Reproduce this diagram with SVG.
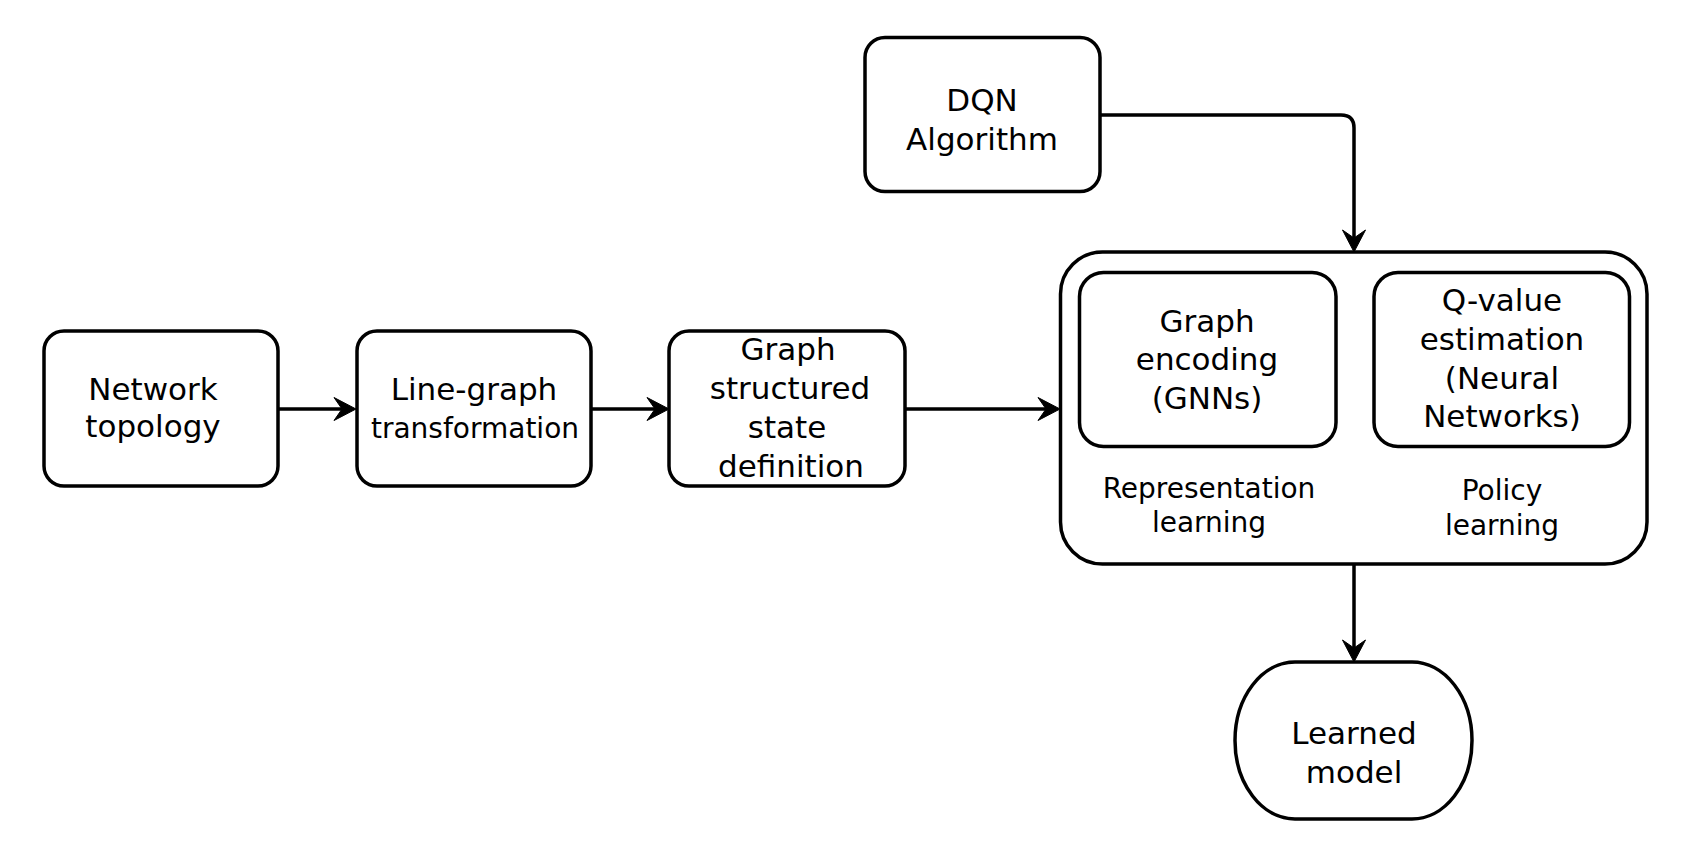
<svg xmlns="http://www.w3.org/2000/svg" width="1698" height="846" viewBox="0 0 1698 846">
  <style>
    .box { fill: #ffffff; stroke: #000000; stroke-width: 3.5; }
    .edge { fill: none; stroke: #000000; stroke-width: 3.5; }
    text { font-family: "DejaVu Sans", Verdana, sans-serif; font-size: 31px; fill: #000000; text-anchor: middle; }
    .small { font-size: 28px; }
  </style>
  <defs>
    <marker id="arrow" markerUnits="userSpaceOnUse" markerWidth="24" markerHeight="26" refX="8" refY="12" orient="auto" overflow="visible">
      <path d="M0,0.5 L22,12 L0,23.5 L8,12 Z" fill="#000000" stroke="#000000" stroke-width="1" stroke-linejoin="miter"/>
    </marker>
  </defs>
  <rect width="1698" height="846" fill="#ffffff"/>

  <g id="connectors">
    <path class="edge" d="M278,409 H342" marker-end="url(#arrow)"/>
    <path class="edge" d="M591,409 H655" marker-end="url(#arrow)"/>
    <path class="edge" d="M905,409 H1046" marker-end="url(#arrow)"/>
    <path class="edge" d="M1100,115 H1341 Q1354,115 1354,128 V238" marker-end="url(#arrow)"/>
    <path class="edge" d="M1354,564 V648" marker-end="url(#arrow)"/>
  </g>

  <g id="network-topology">
    <rect class="box" x="44" y="331" width="234" height="155" rx="20" ry="20"/>
    <text x="153" y="400">Network</text>
    <text x="153" y="437">topology</text>
  </g>

  <g id="line-graph">
    <rect class="box" x="357" y="331" width="234" height="155" rx="20" ry="20"/>
    <text x="474" y="400">Line-graph</text>
    <text x="475" y="438" class="small">transformation</text>
  </g>

  <g id="graph-structured">
    <rect class="box" x="669" y="331" width="236" height="155" rx="20" ry="20"/>
    <text x="788" y="360">Graph</text>
    <text x="790" y="399">structured</text>
    <text x="787" y="438">state</text>
    <text x="791" y="477">definition</text>
  </g>

  <g id="dqn">
    <rect class="box" x="865" y="37.5" width="235" height="154" rx="20" ry="20"/>
    <text x="982" y="111">DQN</text>
    <text x="982" y="149.5">Algorithm</text>
  </g>

  <g id="learning-block">
    <rect class="box" x="1060.5" y="252" width="586.5" height="312" rx="42" ry="42"/>
    <text x="1209" y="497.5" class="small">Representation</text>
    <text x="1209" y="532" class="small">learning</text>
    <text x="1502" y="500" class="small">Policy</text>
    <text x="1502" y="535" class="small">learning</text>
  </g>

  <g id="graph-encoding">
    <rect class="box" x="1079.5" y="272.5" width="256.5" height="174" rx="24" ry="24"/>
    <text x="1207" y="331.5">Graph</text>
    <text x="1207" y="370">encoding</text>
    <text x="1207" y="408.5">(GNNs)</text>
  </g>

  <g id="q-value">
    <rect class="box" x="1374" y="272.5" width="255.5" height="174" rx="24" ry="24"/>
    <text x="1502" y="311">Q-value</text>
    <text x="1502" y="350">estimation</text>
    <text x="1502" y="388.5">(Neural</text>
    <text x="1502" y="427">Networks)</text>
  </g>

  <g id="learned-model">
    <rect class="box" x="1235" y="662" width="237" height="157" rx="60" ry="78.5"/>
    <text x="1354" y="744">Learned</text>
    <text x="1354" y="783">model</text>
  </g>
</svg>
